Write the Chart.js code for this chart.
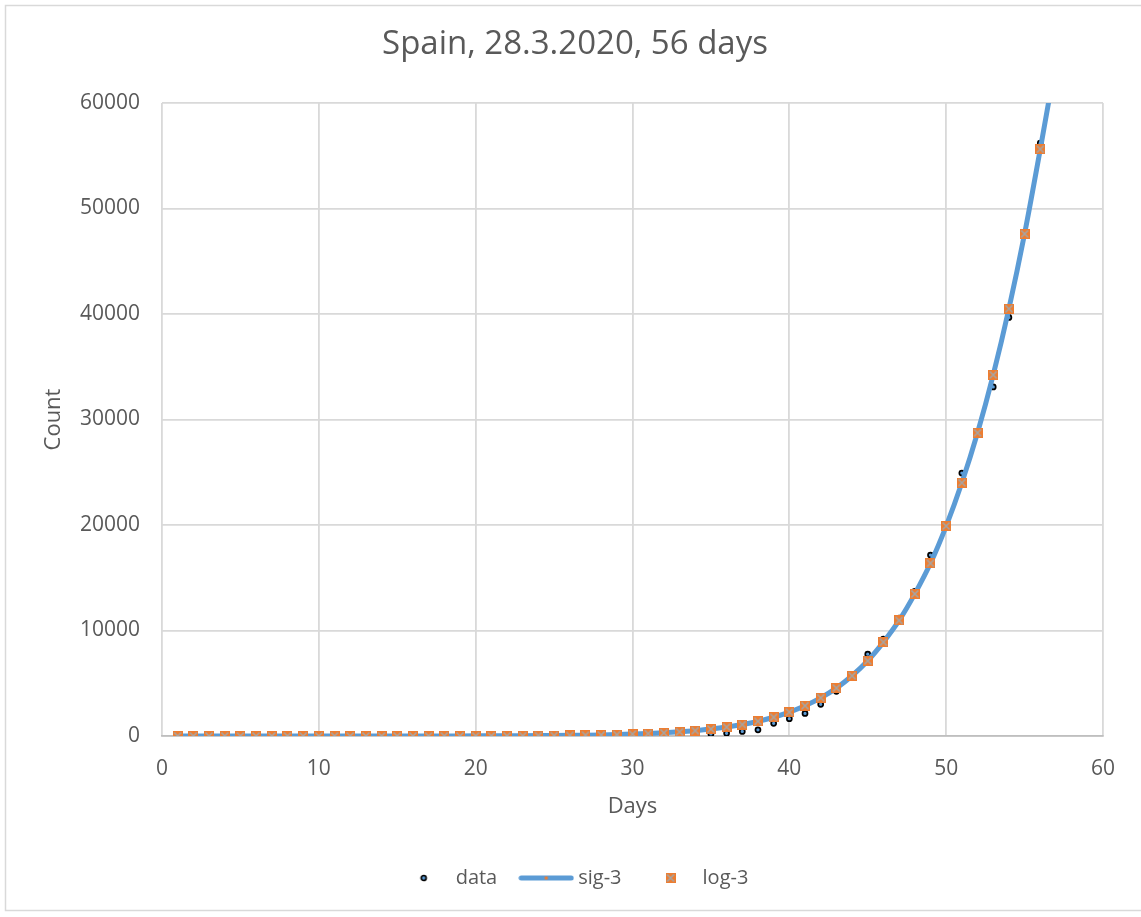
<!DOCTYPE html>
<html>
<head>
<meta charset="utf-8">
<title>Spain, 28.3.2020, 56 days</title>
<script src="https://cdn.jsdelivr.net/npm/chart.js@4/dist/chart.umd.min.js"></script>
<style>
  html, body { margin: 0; padding: 0; background: #fff; }
  canvas { display: block; }
</style>
</head>
<body>
<canvas id="chart" width="1141" height="917"></canvas>
<script>
// day number since the first case
const days = [
  1, 2, 3, 4, 5, 6, 7, 8, 9, 10, 11, 12, 13, 14, 15, 16, 17, 18, 19, 20,
  21, 22, 23, 24, 25, 26, 27, 28, 29, 30, 31, 32, 33, 34, 35, 36, 37, 38, 39, 40,
  41, 42, 43, 44, 45, 46, 47, 48, 49, 50, 51, 52, 53, 54, 55, 56
];

// reported cumulative cases
const counts = [
  1, 1, 1, 1, 1, 1, 1, 1, 1, 2, 2, 2, 2, 2, 2, 2, 2, 2, 2, 2,
  2, 2, 2, 2, 2, 2, 13, 15, 25, 32, 45, 84, 114, 151, 198, 257, 430, 589, 1204, 1639,
  2140, 3004, 4231, 5753, 7753, 9191, 11178, 13716, 17147, 19980, 24926, 28572, 33089, 39673, 47610, 56188
];

// logistic fit, evaluated on each day
const log3 = [
  0.1, 0.1, 0.1, 0.2, 0.2, 0.3, 0.4, 0.5, 0.7, 0.9, 1.1, 1.5, 1.9, 2.5, 3.2, 4.2, 5.5, 7.2, 9.4, 12,
  16, 21, 27, 36, 47, 61, 80, 104, 136, 178, 232, 302, 392, 508, 656, 845, 1085, 1390, 1775, 2260,
  2870, 3620, 4540, 5710, 7130, 8895, 10950, 13470, 16370, 19900, 24010, 28740, 34230, 40500, 47600, 55620
];

// sigmoid fit curve, one day past the data so it runs off the top
const sigDays = days.concat([57]);
const sig3 = log3.concat([64000]);

const xTicks = [0, 10, 20, 30, 40, 50, 60];
const yTicks = [0, 10000, 20000, 30000, 40000, 50000, 60000];

const BLUE = '#5B9BD5';
const ORANGE = '#ED7D31';
const GREY = '#A5A5A5';
const TEXT = '#595959';
const FONT = '"Open Sans", "Noto Sans", sans-serif';

function makeCanvas(w, h, draw) {
  const c = document.createElement('canvas');
  c.width = w;
  c.height = h;
  draw(c.getContext('2d'));
  return c;
}

// orange square with a grey cross
const squareMarker = makeCanvas(10, 10, (g) => {
  g.fillStyle = ORANGE;
  g.fillRect(0, 0, 10, 10);
  g.strokeStyle = GREY;
  g.lineWidth = 1.6;
  g.beginPath();
  g.moveTo(1.5, 1.5); g.lineTo(8.5, 8.5);
  g.moveTo(8.5, 1.5); g.lineTo(1.5, 8.5);
  g.stroke();
});

const dotMarker = makeCanvas(10, 10, (g) => {
  g.beginPath();
  g.arc(5, 5, 2.5, 0, Math.PI * 2);
  g.fillStyle = BLUE;
  g.fill();
  g.lineWidth = 1.7;
  g.strokeStyle = '#000';
  g.stroke();
});

const lineMarker = makeCanvas(56, 10, (g) => {
  g.strokeStyle = BLUE;
  g.lineWidth = 5;
  g.lineCap = 'round';
  g.beginPath();
  g.moveTo(3, 5);
  g.lineTo(53, 5);
  g.stroke();
  g.fillStyle = ORANGE;
  g.fillRect(26.5, 3.5, 3, 3);
});

const toPoints = (xs, ys) => xs.map((x, i) => ({ x: x, y: ys[i] }));

// white page with a thin frame
const frame = {
  id: 'frame',
  beforeDraw(chart) {
    const g = chart.ctx;
    g.save();
    g.fillStyle = '#fff';
    g.fillRect(0, 0, chart.width, chart.height);
    g.strokeStyle = '#d9d9d9';
    g.lineWidth = 1.5;
    g.strokeRect(5.5, 5.5, chart.width + 10, chart.height - 12);
    g.restore();
  }
};

new Chart(document.getElementById('chart'), {
  type: 'scatter',
  data: {
    datasets: [
      {
        label: 'data',
        data: toPoints(days, counts),
        pointStyle: 'circle',
        pointRadius: 2.5,
        pointBorderWidth: 1.7,
        pointBorderColor: '#000',
        pointBackgroundColor: BLUE,
        order: 3
      },
      {
        label: 'sig-3',
        data: toPoints(sigDays, sig3),
        showLine: true,
        borderColor: BLUE,
        borderWidth: 5,
        cubicInterpolationMode: 'monotone',
        pointRadius: 0,
        order: 2
      },
      {
        label: 'log-3',
        data: toPoints(days, log3),
        pointStyle: squareMarker,
        order: 1
      }
    ]
  },
  options: {
    responsive: false,
    animation: false,
    layout: { padding: { left: 29, right: 20, top: 0, bottom: 19 } },
    scales: {
      x: {
        type: 'linear',
        min: 0,
        max: 60,
        afterBuildTicks: (scale) => { scale.ticks = xTicks.map((v) => ({ value: v })); },
        afterFit: (scale) => { scale.height = 105; scale.paddingRight = 38; },
        grid: { color: '#d9d9d9', lineWidth: 1.8, drawTicks: false },
        border: { display: true, color: '#bfbfbf', width: 1.8 },
        ticks: { color: TEXT, padding: 20, font: { family: FONT, size: 21 } },
        title: {
          display: true,
          text: 'Days',
          color: TEXT,
          font: { family: FONT, size: 22 },
          padding: { top: 0, bottom: 21 }
        }
      },
      y: {
        min: 0,
        max: 60000,
        afterBuildTicks: (scale) => { scale.ticks = yTicks.map((v) => ({ value: v })); },
        afterFit: (scale) => { scale.width = 133; },
        grid: { color: '#d9d9d9', lineWidth: 1.8, drawTicks: false },
        border: { display: false },
        ticks: {
          color: TEXT,
          padding: 22,
          font: { family: FONT, size: 21 },
          callback: (v) => String(v)
        },
        title: {
          display: true,
          text: 'Count',
          color: TEXT,
          font: { family: FONT, size: 22 },
          padding: { top: 12, bottom: 0 }
        }
      }
    },
    plugins: {
      title: {
        display: true,
        text: 'Spain, 28.3.2020, 56 days',
        color: TEXT,
        font: { family: FONT, size: 33, weight: 'normal' },
        padding: { top: 25, bottom: 38.4 }
      },
      legend: {
        position: 'bottom',
        labels: {
          usePointStyle: true,
          pointStyleWidth: 44,
          padding: 27,
          color: TEXT,
          font: { family: FONT, size: 20 },
          generateLabels: () => [
            { text: 'data', pointStyle: dotMarker, datasetIndex: 0, fontColor: TEXT, lineWidth: 0, strokeStyle: 'rgba(0,0,0,0)', fillStyle: 'rgba(0,0,0,0)' },
            { text: 'sig-3', pointStyle: lineMarker, datasetIndex: 1, fontColor: TEXT, lineWidth: 0, strokeStyle: 'rgba(0,0,0,0)', fillStyle: 'rgba(0,0,0,0)' },
            { text: 'log-3', pointStyle: squareMarker, datasetIndex: 2, fontColor: TEXT, lineWidth: 0, strokeStyle: 'rgba(0,0,0,0)', fillStyle: 'rgba(0,0,0,0)' }
          ]
        }
      },
      tooltip: { enabled: false }
    }
  },
  plugins: [frame]
});
</script>
</body>
</html>
